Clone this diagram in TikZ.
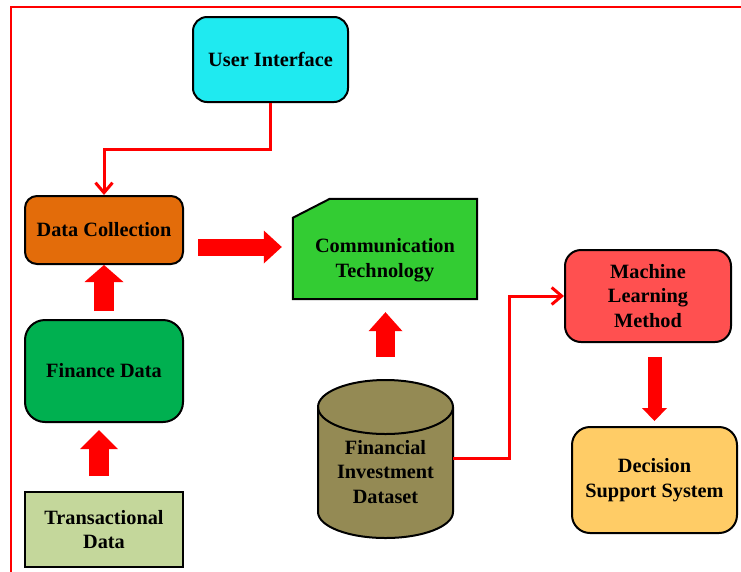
\documentclass[tikz,border=0pt]{standalone}
\usepackage{fontspec}
\setmainfont{Liberation Serif}
\usetikzlibrary{arrows.meta,calc}
\definecolor{uicyan}{HTML}{1FEAF0}
\definecolor{dcorange}{HTML}{E36C0A}
\definecolor{ctgreen}{HTML}{33CC33}
\definecolor{fingreen}{HTML}{00B050}
\definecolor{trgreen}{HTML}{C4D79B}
\definecolor{dbolive}{HTML}{948A54}
\definecolor{mlred}{HTML}{FF5050}
\definecolor{dssyellow}{HTML}{FFCC66}
\begin{document}
\begin{tikzpicture}[x=1pt,y=-1pt,
  txt/.style={font=\bfseries\fontsize{20.3}{24.5}\selectfont, align=center, text=black},
  box/.style={txt, draw=black, line width=2pt, rectangle, inner sep=0pt},
  rbox/.style={box, rounded corners=14pt},
  conn/.style={draw=red, line width=3pt, -{Straight Barb[length=10pt,width=17pt]}},
  barrow/.style n args={3}{draw=red, line width=#1, -{Triangle[length=#2,width=#3,line width=0pt]}},
]
\useasboundingbox (0,0) rectangle (741,571);
\clip (0,0) rectangle (741,571);
% outer frame
\draw[red, line width=2pt] (11,7) rectangle (760,590);

% boxes
\node[rbox, fill=uicyan, minimum width=155pt, minimum height=85pt] (ui) at (270.5,59.5) {User Interface};
\node[rbox, rounded corners=12pt, fill=dcorange, minimum width=158pt, minimum height=68pt] (dc) at (104,230) {Data Collection};
\node[rbox, rounded corners=20pt, fill=fingreen, minimum width=158pt, minimum height=102pt] (fin) at (104,371) {Finance Data};
\node[box, fill=trgreen, minimum width=158pt, minimum height=75pt] (trans) at (104,529.5) {Transactional\\Data};
\node[rbox, rounded corners=16pt, fill=mlred, minimum width=166pt, minimum height=92pt] (ml) at (648,296) {Machine\\Learning\\Method};
\node[rbox, rounded corners=18pt, fill=dssyellow, minimum width=165pt, minimum height=106pt] (dss) at (654.5,480) {Decision\\Support System};

% communication technology: rectangle with a snipped top-left corner
\node[minimum width=186pt, minimum height=102pt, inner sep=0pt] (ct) at (385,249) {};
\filldraw[fill=ctgreen, draw=black, line width=2pt, line join=miter]
  ([shift={(1pt,1pt)}]ct.south west) -- ([shift={(1pt,-20pt)}]ct.north west)
  -- ([shift={(38pt,-1pt)}]ct.north west) -- ([shift={(-1pt,-1pt)}]ct.north east)
  -- ([shift={(-1pt,1pt)}]ct.south east) -- cycle;
\node[txt] (cttext) at ($(ct.center)+(0,11)$) {Communication\\Technology};

% database cylinder
\filldraw[fill=dbolive, draw=black, line width=2pt]
  (318,407) -- (318,512) arc[start angle=180, end angle=360, x radius=67.5pt, y radius=26pt]
  -- (453,407) arc[start angle=0, end angle=180, x radius=67.5pt, y radius=27pt] -- cycle;
\draw[line width=2pt] (318,407) arc[start angle=180, end angle=360, x radius=67.5pt, y radius=27pt];
\node[txt] (fid) at (385.5,472) {Financial\\Investment\\Dataset};
\coordinate (fidtop) at (385.5,380);
\coordinate (fidR) at (453,458);

% thin connectors
\draw[conn] (ui.south) -- ++(0,46) -| (dc.north);
\draw[conn] (fidR) -- ++(56,0) |- (ml.west);

% block arrows
\coordinate (dcr) at ([yshift=-17pt]dc.east);
\coordinate (trn) at ([xshift=-5pt]trans.north);
\coordinate (mls) at ([xshift=6.5pt]ml.south);
\draw[barrow={20pt}{17pt}{39pt}, shorten <=8pt] (fin.north) -- (dc.south);
\draw[barrow={20pt}{19pt}{38pt}, shorten <=15pt, shorten >=7pt] (trn) -- (trn |- fin.south);
\draw[barrow={17pt}{18pt}{33pt}, shorten <=14pt, shorten >=10pt] (dcr) -- (dcr -| ct.west);
\draw[barrow={19pt}{19pt}{34pt}, shorten <=23pt, shorten >=12pt] (fidtop) -- (fidtop |- ct.south);
\draw[barrow={14pt}{13pt}{25pt}, shorten <=14pt, shorten >=5pt] (mls) -- (mls |- dss.north);
\end{tikzpicture}
\end{document}
